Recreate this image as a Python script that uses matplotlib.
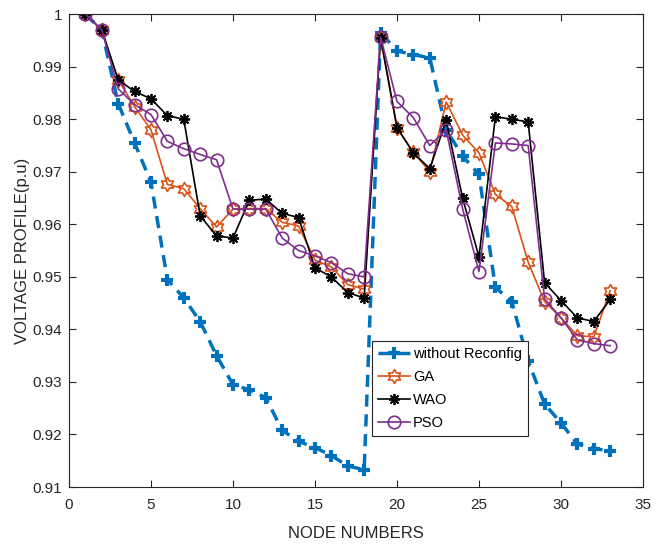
import numpy as np
import matplotlib
matplotlib.use("Agg")
import matplotlib.pyplot as plt
from matplotlib.path import Path

plt.rcParams['font.family'] = ['Liberation Sans', 'DejaVu Sans']

nodes = list(range(1, 34))

without_reconfig = [1.0, 0.997, 0.983, 0.9755, 0.968, 0.9495, 0.946, 0.9415, 0.935, 0.9295,
                    0.9285, 0.927, 0.9208, 0.9187, 0.9175, 0.916, 0.914, 0.9133, 0.9965, 0.993,
                    0.9923, 0.9917, 0.978, 0.973, 0.9695, 0.948, 0.9453, 0.934, 0.9258, 0.9222,
                    0.9182, 0.9173, 0.9169]
ga = [1.0, 0.997, 0.9875, 0.9824, 0.978, 0.9676, 0.9668, 0.963, 0.9595, 0.9629,
      0.963, 0.963, 0.9604, 0.9597, 0.9532, 0.9519, 0.9485, 0.9477, 0.9957, 0.9784,
      0.9737, 0.970, 0.9833, 0.977, 0.9736, 0.9657, 0.9634, 0.9528, 0.9453, 0.9422,
      0.9388, 0.9386, 0.9474]
wao = [1.0, 0.997, 0.9875, 0.9853, 0.9839, 0.9807, 0.980, 0.9616, 0.9578, 0.9574,
       0.9646, 0.9648, 0.9621, 0.9613, 0.9517, 0.950, 0.947, 0.946, 0.9955, 0.9784,
       0.9736, 0.9706, 0.9798, 0.965, 0.9538, 0.9805, 0.980, 0.9795, 0.9489, 0.9455,
       0.9422, 0.9415, 0.9457]
pso = [1.0, 0.997, 0.9858, 0.9828, 0.9809, 0.9758, 0.9744, 0.9733, 0.9723, 0.9629,
       0.9629, 0.9629, 0.9574, 0.955, 0.954, 0.9527, 0.9506, 0.950, 0.9957, 0.9834,
       0.9803, 0.975, 0.978, 0.963, 0.951, 0.9755, 0.9753, 0.975, 0.9458, 0.9422,
       0.938, 0.9373, 0.9369]

x_ticks = [0, 5, 10, 15, 20, 25, 30, 35]
y_ticks = [0.91, 0.92, 0.93, 0.94, 0.95, 0.96, 0.97, 0.98, 0.99, 1.0]
y_tick_labels = ['0.91', '0.92', '0.93', '0.94', '0.95', '0.96', '0.97', '0.98', '0.99', '1']

# six-pointed star (MATLAB hexagram) marker
ang = np.pi / 2 + np.arange(12) * np.pi / 6
rad = np.where(np.arange(12) % 2 == 0, 1.0, 0.577)
verts = np.column_stack([rad * np.cos(ang), rad * np.sin(ang)])
verts = np.vstack([verts, verts[:1]])
hexagram = Path(verts, closed=True)

fig = plt.figure(figsize=(6.67, 5.46), dpi=100)
ax = fig.add_axes([0.1034, 0.108, 0.8606, 0.866])

ax.plot(nodes, without_reconfig, color='#0072BD', linestyle='--', linewidth=2.5,
        marker='+', markersize=8, markeredgewidth=3, dashes=(3.5, 2.2), label='without Reconfig')
ax.plot(nodes, ga, color='#D95319', linewidth=1.2, marker=hexagram, markersize=10,
        markerfacecolor='none', markeredgewidth=1.2, label='GA')
ax.plot(nodes, wao, color='black', linewidth=1.2, marker=(8, 2, 0), markersize=8,
        markeredgewidth=1.3, label='WAO')
ax.plot(nodes, pso, color='#7E2F8E', linewidth=1.2, marker='o', markersize=9,
        markerfacecolor='none', markeredgewidth=1.2, label='PSO')

ax.set_xlim(0, 35)
ax.set_ylim(0.91, 1.0)
ax.set_xticks(x_ticks)
ax.set_yticks(y_ticks, labels=y_tick_labels)
ax.tick_params(direction='in', top=True, right=True, labelsize=11, colors='#262626',
               length=5, width=0.8)
ax.tick_params(axis='x', pad=8)
ax.tick_params(axis='y', pad=5)
for s in ax.spines.values():
    s.set_linewidth(0.8)
    s.set_color('#262626')

ax.set_xlabel('NODE NUMBERS', fontsize=12, color='#262626', labelpad=10)
ax.set_ylabel('VOLTAGE PROFILE(p.u)', fontsize=12, color='#262626', labelpad=2)

leg = ax.legend(loc='upper left', bbox_to_anchor=(0.528, 0.309), fontsize=10.5,
                fancybox=False, edgecolor='#262626', framealpha=1, borderpad=0.4,
                handlelength=2.2, handletextpad=0.2, labelspacing=0.62, borderaxespad=0)
leg.get_frame().set_linewidth(0.8)

plt.savefig('out.png', dpi=100)
